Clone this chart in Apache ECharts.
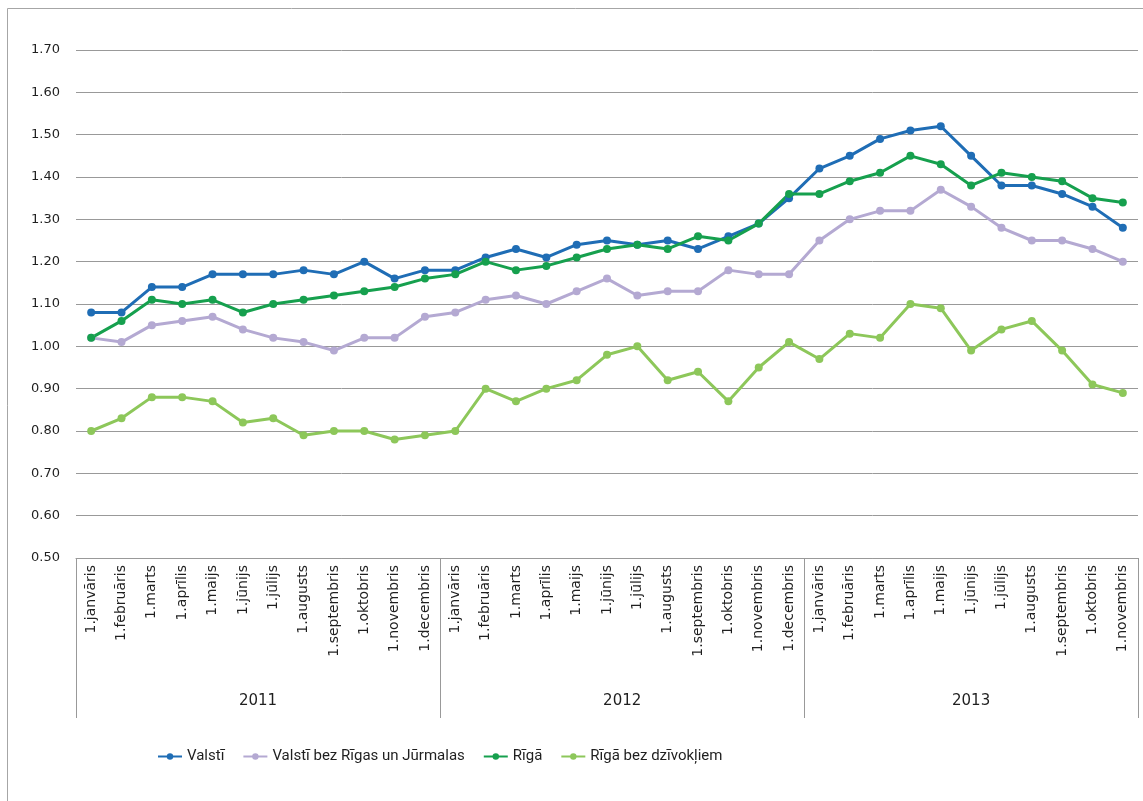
<!DOCTYPE html>
<html lang="lv">
<head>
<meta charset="UTF-8" />
<title>Valstī / Rīgā</title>
<script src="https://cdn.jsdelivr.net/npm/echarts@6/dist/echarts.min.js"></script>
<style type="text/css">
html,body{margin:0;padding:0;background:#fff;}
#main{width:1143px;height:801px;}
</style>
</head>
<body>
<div id="main"></div>
<script type="text/javascript">
// mēneši (kategorijas)
var months = ['1.janvāris','1.februāris','1.marts','1.aprīlis','1.maijs','1.jūnijs','1.jūlijs',
  '1.augusts','1.septembris','1.oktobris','1.novembris','1.decembris'];
var years = ['2011','2012','2013'];
var yearCounts = [12, 12, 11];
var yTicks = [0.5, 1.7, 0.1]; // min, max, solis

var valsti = [1.08,1.08,1.14,1.14,1.17,1.17,1.17,1.18,1.17,1.20,1.16,1.18,
  1.18,1.21,1.23,1.21,1.24,1.25,1.24,1.25,1.23,1.26,1.29,1.35,
  1.42,1.45,1.49,1.51,1.52,1.45,1.38,1.38,1.36,1.33,1.28];
var valstiBezRigas = [1.02,1.01,1.05,1.06,1.07,1.04,1.02,1.01,0.99,1.02,1.02,1.07,
  1.08,1.11,1.12,1.10,1.13,1.16,1.12,1.13,1.13,1.18,1.17,1.17,
  1.25,1.30,1.32,1.32,1.37,1.33,1.28,1.25,1.25,1.23,1.20];
var riga = [1.02,1.06,1.11,1.10,1.11,1.08,1.10,1.11,1.12,1.13,1.14,1.16,
  1.17,1.20,1.18,1.19,1.21,1.23,1.24,1.23,1.26,1.25,1.29,1.36,
  1.36,1.39,1.41,1.45,1.43,1.38,1.41,1.40,1.39,1.35,1.34];
var rigaBezDzivokliem = [0.80,0.83,0.88,0.88,0.87,0.82,0.83,0.79,0.80,0.80,0.78,0.79,
  0.80,0.90,0.87,0.90,0.92,0.98,1.00,0.92,0.94,0.87,0.95,1.01,
  0.97,1.03,1.02,1.10,1.09,0.99,1.04,1.06,0.99,0.91,0.89];

// kategoriju saraksts + gadu robežas
var cats = [];
var bounds = [0];
var centers = [];
var yearAt = {};
for(var i=0;i<years.length;i++){
  for(var j=0;j<yearCounts[i];j++){
    cats.push(months[j]);
  }
  var start = bounds[bounds.length-1];
  var end = start + yearCounts[i];
  bounds.push(end);
  centers.push((start+end)/2);
  yearAt[(start+end)/2] = years[i];
}

var txt = '#1f1f1f';
var font = 'DejaVu Sans';

function line(name, data, color){
  return {
    name:name,
    type:'line',
    data:data,
    symbol:'circle',
    symbolSize:8,
    lineStyle:{width:3,color:color},
    itemStyle:{color:color},
    emphasis:{disabled:true}
  };
}

var myChart = echarts.init(document.getElementById('main'));
myChart.setOption({
  animation:false,
  textStyle:{fontFamily:font},
  graphic:[{
    type:'rect',
    shape:{x:7.5,y:8.5,width:1200,height:900},
    style:{fill:'none',stroke:'#a6a6a6',lineWidth:1},
    silent:true
  }],
  grid:{left:76,right:5,top:50,bottom:243},
  legend:{
    bottom:32,
    left:152,
    itemGap:18,
    itemWidth:24,
    itemHeight:8,
    textStyle:{color:txt,fontSize:15,fontFamily:'Roboto'},
    data:['Valstī','Valstī bez Rīgas un Jūrmalas','Rīgā','Rīgā bez dzīvokļiem']
  },
  xAxis:[{
    type:'category',
    data:cats,
    boundaryGap:true,
    axisLine:{lineStyle:{color:'#999',width:1}},
    axisTick:{show:false},
    axisLabel:{rotate:90,interval:0,margin:7,fontSize:14,fontFamily:font,color:txt}
  },{
    type:'value',
    position:'bottom',
    min:0,
    max:cats.length,
    axisLine:{show:false},
    splitLine:{show:false},
    axisTick:{show:true,length:160,customValues:bounds,lineStyle:{color:'#999',width:1}},
    axisLabel:{customValues:centers,margin:136,fontSize:15,fontFamily:font,color:txt,
      formatter:function(v){ return yearAt[v] || ''; }}
  }],
  yAxis:{
    type:'value',
    min:yTicks[0],
    max:yTicks[1],
    interval:yTicks[2],
    axisLine:{show:false},
    axisTick:{show:false},
    splitLine:{lineStyle:{color:'#999',width:1}},
    axisLabel:{margin:16,fontSize:13,fontFamily:font,color:txt,formatter:function(v){return v.toFixed(2);}}
  },
  series:[
    line('Valstī', valsti, '#1f6db5'),
    line('Valstī bez Rīgas un Jūrmalas', valstiBezRigas, '#b4a9d2'),
    line('Rīgā', riga, '#16a04e'),
    line('Rīgā bez dzīvokļiem', rigaBezDzivokliem, '#8dc75a')
  ]
});
</script>
</body>
</html>
